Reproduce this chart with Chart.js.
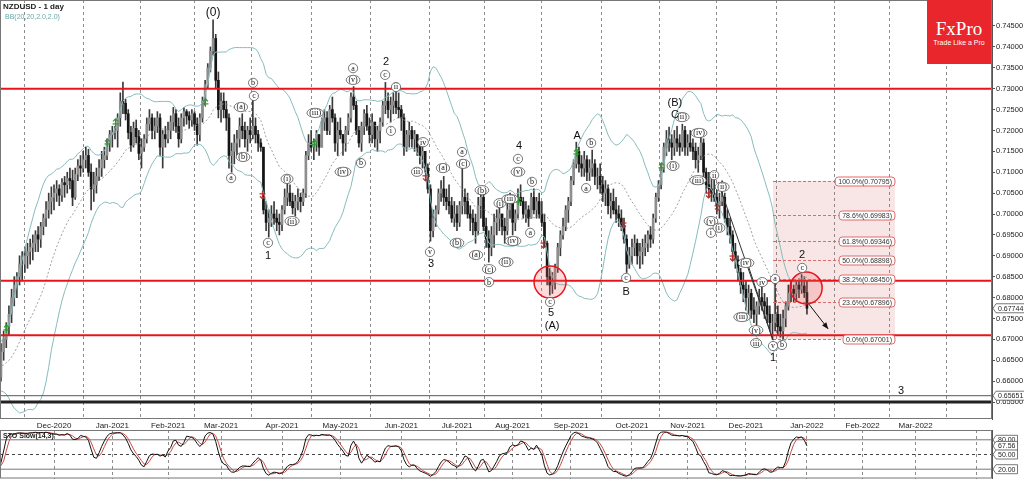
<!DOCTYPE html>
<html>
<head>
<meta charset="utf-8">
<script src="https://cdn.jsdelivr.net/npm/chart.js@4.4.0/dist/chart.umd.min.js"></script>
<style>
html,body{margin:0;padding:0;background:#fff;width:1024px;height:479px;overflow:hidden}
#wrap{position:relative;width:1024px;height:479px}
#main{position:absolute;left:0;top:0}
#sto{position:absolute;left:0;top:430px}
.t{position:absolute;white-space:nowrap}
#logo{position:absolute;left:927px;top:0;width:64px;height:64px;background:#e9262c;color:#fff;text-align:center}
</style>
</head>
<body>
<div id="wrap">
  <canvas id="main" width="1024" height="430"></canvas>
  <canvas id="sto" width="1024" height="49"></canvas>
  <div class="t" style="left:3px;top:2px;font:bold 8px 'Liberation Sans';color:#222">NZDUSD - 1 day</div>
  <div class="t" style="left:5px;top:13px;font:7px 'Liberation Sans';color:#6aa9a9">BB(20,20,2.0,2.0)</div>
  <div id="logo">
    <div style="font:19px 'Liberation Serif';line-height:19px;margin-top:19px">FxPro</div>
    <div style="font:7px 'Liberation Sans';line-height:9px">Trade Like a Pro</div>
  </div>
  <div class="t" style="left:3px;top:432px;font:bold 7px 'Liberation Sans';color:#222">STO Slow(14,3)</div>
</div>
<script>
// daily bars, price in pips (7012 = 0.7012), index 0 = 1 Dec 2020, one step per weekday
const firstIdx = -41;
const hi = [
  // Oct 2020 (off screen, feeds the bands)
  6640,6660,6670,6650,6680,6670,6650,6640,6630,6620,6630,6640,6680,6720,6700,6680,6690,6690,6650,6630,6620,
  // Nov
  6690,6720,6740,6780,6820,6850,6860,6900,6910,6920,6930,6940,6950,6960,6970,6980,7000,7030,7050,7065,
  // Dec
  7070,7080,7070,7085,7090,7100,7110,7105,7110,7130,7140,7150,7160,7155,7120,7100,7110,7130,7150,7160,7180,7200,7210,
  // Jan 2021
  7210,7240,7290,7316,7275,7250,7210,7220,7225,7200,7180,7190,7230,7250,7240,7230,7245,7240,7200,7210,7220,
  // Feb
  7235,7255,7250,7230,7240,7255,7250,7245,7250,7245,7230,7240,7280,7320,7360,7400,7465,7430,7340,7290,
  // Mar
  7290,7270,7240,7170,7190,7200,7230,7240,7220,7210,7230,7290,7230,7200,7180,7160,7030,7010,7020,7030,7010,7000,7020,
  // Apr
  7060,7075,7070,7050,7045,7060,7050,7060,7150,7190,7200,7180,7200,7190,7230,7250,7245,7260,7280,7240,7220,7230,
  // May
  7190,7210,7240,7290,7305,7270,7210,7220,7250,7260,7230,7240,7220,7210,7230,7270,7315,7290,7280,7290,7300,
  // Jun
  7290,7260,7240,7200,7220,7210,7200,7190,7170,7160,7150,7120,7070,7010,7020,7060,7080,7090,7060,7070,7040,7030,
  // Jul
  7020,7030,7130,7060,7050,7020,7010,7000,7040,7060,7050,6990,6960,6970,7000,7010,7020,7000,6990,7030,7050,7040,
  // Aug
  7010,7060,7070,7040,7030,7020,7050,7060,7040,7050,7030,7000,6935,6870,6860,6880,6930,6960,6990,7020,7040,7090,
  // Sep
  7130,7172,7160,7140,7150,7140,7130,7153,7130,7110,7120,7090,7080,7070,7050,7060,7040,7020,7010,6990,6950,6920,
  // Oct
  6940,6950,6940,6930,6940,6950,6960,6970,7000,7050,7080,7120,7170,7200,7208,7190,7200,7210,7190,7215,7210,
  // Nov
  7190,7200,7180,7170,7160,7190,7180,7110,7100,7090,7100,7060,7050,7079.5,7050,7010,6990,6960,6930,6900,6870,6860,
  // Dec + 3 Jan 2022
  6840,6830,6820,6800,6790,6820,6830,6810,6800,6780,6760,6840,6780,6760,6770,6790,6830,6840,6830,6840,6845,6855,6850,6840
];
const lo = [
  6600,6620,6620,6600,6610,6630,6600,6580,6590,6580,6590,6590,6610,6660,6640,6630,6640,6630,6590,6580,6580,
  6600,6650,6680,6710,6740,6780,6800,6830,6840,6860,6870,6880,6890,6910,6910,6920,6950,6970,6990,7000,
  7010,7030,7020,7030,7040,7050,7060,7020,7035,7080,7090,7100,7110,7090,7010,7030,7050,7080,7090,7110,7130,7150,7160,
  7180,7160,7210,7240,7225,7180,7150,7160,7170,7130,7110,7150,7170,7200,7180,7180,7195,7140,7110,7160,7170,
  7180,7200,7195,7160,7170,7210,7215,7205,7210,7200,7165,7175,7220,7260,7300,7340,7380,7300,7230,7220,
  7230,7200,7110,7100,7120,7140,7160,7180,7160,7150,7170,7180,7170,7150,7150,7000,6960,6945,6970,6975,6960,6950,6960,
  7000,7020,7020,7000,6995,7010,7005,7020,7040,7130,7150,7130,7150,7140,7160,7200,7190,7190,7220,7150,7140,7180,
  7140,7150,7190,7220,7250,7190,7160,7150,7190,7200,7170,7170,7160,7150,7170,7210,7240,7230,7220,7240,7240,
  7230,7200,7140,7150,7160,7160,7150,7140,7120,7110,7100,7050,6935,6945,6970,7000,7030,7020,7010,7000,6980,6970,
  6960,6970,7000,7000,6990,6960,6950,6930,6950,6990,6960,6920,6885,6900,6920,6950,6960,6950,6930,6950,6990,6950,
  6960,6990,7020,6990,6980,6970,6990,7000,6990,6990,6970,6920,6830,6806,6810,6820,6860,6900,6940,6960,6980,7020,
  7070,7110,7100,7090,7090,7080,7080,7090,7070,7060,7050,7030,7020,7000,6990,7000,6980,6970,6960,6930,6860,6870,
  6880,6900,6880,6870,6880,6900,6910,6920,6930,6980,7030,7060,7100,7140,7150,7130,7140,7150,7140,7150,7140,
  7140,7150,7130,7110,7100,7130,7080,7050,7040,7030,7030,7000,6990,7020,6980,6950,6930,6890,6870,6840,6810,6790,
  6770,6760,6750,6740,6730,6760,6770,6750,6740,6720,6700.1,6720,6710,6705,6700,6730,6770,6790,6790,6790,6800,6810,6800,6760
];
const cl = [
  6630,6650,6630,6620,6660,6640,6620,6600,6610,6600,6610,6620,6670,6700,6660,6650,6680,6650,6610,6600,6610,
  6670,6700,6730,6760,6800,6830,6850,6880,6880,6900,6910,6920,6930,6950,6940,6970,6990,7010,7030,7040,
  7050,7060,7045,7075,7070,7085,7080,7040,7095,7115,7110,7130,7140,7100,7060,7070,7090,7110,7130,7140,7170,7190,7195,
  7200,7230,7270,7265,7240,7195,7165,7205,7185,7145,7160,7180,7215,7230,7200,7210,7230,7160,7190,7180,7200,
  7220,7240,7210,7180,7230,7245,7235,7225,7240,7215,7190,7230,7270,7310,7350,7390,7420,7320,7250,7270,
  7250,7230,7140,7150,7170,7180,7210,7200,7180,7200,7190,7210,7190,7170,7160,7010,6980,6990,7000,6990,6980,6975,7010,
  7040,7050,7030,7015,7030,7040,7030,7050,7140,7170,7160,7170,7190,7160,7220,7230,7200,7250,7230,7170,7200,7190,
  7170,7200,7230,7280,7260,7200,7170,7210,7240,7210,7190,7220,7180,7200,7220,7260,7270,7250,7260,7270,7255,
  7250,7230,7160,7190,7200,7180,7190,7160,7140,7150,7110,7060,6960,6990,7010,7050,7060,7040,7030,7020,6990,7000,
  6980,7020,7040,7030,7000,6990,6980,6960,7020,7040,6970,6940,6920,6950,6980,6990,7000,6970,6960,7010,7030,6980,
  7000,7040,7030,7000,7010,6990,7040,7010,7030,7000,6980,6930,6850,6830,6840,6870,6920,6950,6970,7010,7030,7080,
  7120,7150,7120,7110,7130,7100,7110,7120,7090,7090,7070,7050,7060,7020,7030,7010,7000,6990,6970,6940,6880,6900,
  6920,6930,6900,6910,6920,6930,6950,6940,6990,7040,7070,7110,7160,7180,7170,7160,7180,7170,7160,7200,7160,
  7170,7160,7150,7130,7140,7170,7100,7070,7060,7050,7040,7020,7030,7040,6990,6970,6950,6910,6890,6860,6830,6820,
  6800,6810,6770,6760,6780,6800,6790,6780,6760,6740,6740,6760,6730,6720,6750,6780,6810,6820,6810,6830,6820,6827.75,6812,6774.4
];
if (hi.length !== cl.length || lo.length !== cl.length) throw new Error('bar arrays differ: ' + hi.length + ' ' + lo.length + ' ' + cl.length);

// date axis: weekday index of each month start, and its label
const monthIdx = [0, 22, 43, 63, 86, 108, 131, 152, 173, 195, 218, 239, 261, 284, 305, 325, 348];
const monthNames = ['Dec-2020','Jan-2021','Feb-2021','Mar-2021','Apr-2021','May-2021','Jun-2021','Jul-2021',
                    'Aug-2021','Sep-2021','Oct-2021','Nov-2021','Dec-2021','Jan-2022','Feb-2022','Mar-2022',''];
const priceTicks = [0.655,0.66,0.665,0.67,0.675,0.68,0.685,0.69,0.695,0.70,0.705,0.71,0.715,0.72,0.725,0.73,0.735,0.74,0.745];
const stoTicks = [20, 50, 80];

// drawn levels
const redLevels = [0.7300, 0.6840, 0.6710];
const thinLevel = 0.65651;
const thickLevel = 0.6550;
const fibTop = 0.70795, fibBottom = 0.67001;
const fibRatios = [1, 0.786, 0.618, 0.5, 0.382, 0.236, 0];
const fibFrom = 271.2, fibTo = 317.2;
const circles = [[187.1, 0.6837], [283.7, 0.6823]];
const trendLines = [[[250.5, 0.7077], [271.2, 0.6698]], [[261.4, 0.6885], [271.2, 0.6698]]];
const arrowLine = [[284.4, 0.6787], [292, 0.6725]];
const buySignals = [[-18,0.6725],[20,0.7170],[23,0.7218],[57,0.7266],[98,0.7168],[175,0.7031],[197,0.7146],[229,0.7113]];
const sellSignals = [[78.5,0.7046],[140,0.7089],[184.5,0.6928],[214.6,0.6976],[246.7,0.7048],[250,0.7017],[255.7,0.6897]];

// wave counts
const circLabels = [
  [75.1,0.7314,'b'],[75.4,0.72825,'c'],[70.5,0.7256,'(a)'],[66.8,0.7086,'a'],[71.3,0.71365,'(b)'],[80.7,0.6931,'c'],
  [87.9,0.7084,'(i)'],[89.8,0.6983,'(ii)'],[98.5,0.7242,'(iii)'],[109,0.7101,'(iv)'],[112.8,0.7321,'(v)'],[112.8,0.7349,'a'],
  [115.8,0.7122,'b'],[124.9,0.7333,'c'],[127.1,0.7199,'i'],[129,0.7304,'ii'],
  [139.2,0.7172,'iv'],[136.9,0.7101,'iii'],[141.8,0.6909,'v'],[146.7,0.7110,'(a)'],[152,0.6931,'(b)'],[153.9,0.71485,'a'],
  [154.3,0.7120,'(c)'],[159.2,0.6902,'(a)'],[161.4,0.7057,'(b)'],[164.1,0.6868,'(c)'],[164.1,0.6837,'b'],
  [168.2,0.7026,'(i)'],[170.5,0.6885,'(ii)'],[172,0.7036,'(iii)'],[173.1,0.69355,'(iv)'],[175,0.7101,'(v)'],[175,0.7132,'c'],
  [180.3,0.7077,'b'],[179.6,0.6955,'a'],[187.1,0.67894,'c'],
  [200.7,0.7062,'a'],[202.6,0.7170,'b'],[215.8,0.6847,'c'],
  [233.5,0.7115,'(i)'],[236.9,0.7232,'(ii)'],[242.9,0.7081,'(iii)'],[243.3,0.7194,'(iv)'],[249,0.7093,'ii'],
  [247.8,0.6983,'(v)'],[247.8,0.6955,'i'],[250.8,0.6967,'(i)'],[252,0.7065,'(ii)'],
  [261,0.6883,'(iv)'],[259.5,0.67535,'(iii)'],[264.8,0.6722,'(v)'],[264.8,0.6691,'iii'],[267.1,0.6837,'iv'],
  [271.2,0.6684,'v'],[272,0.68445,'a'],[274.6,0.66865,'b'],[282.2,0.6871,'c']
];
const bigLabels = [
  [60,0.7481,'(0)'],[80.7,0.68995,'1'],[125.2,0.7364,'2'],[142.2,0.6880,'3'],[175.4,0.7163,'4'],[187.5,0.6763,'5'],
  [187.9,0.6732,'(A)'],[197.3,0.7187,'A'],[215.8,0.6813,'B'],[234.2,0.7266,'(B)'],[234.2,0.7237,'C'],
  [271.2,0.66554,'1'],[282.2,0.6902,'2'],[319.5,0.6576,'3']
];

const xMin = -20.37, xMax = 353.8;
const yMin = 0.650936, yMax = 0.751223;
const FONT = "'Liberation Sans', Arial, sans-serif";
Chart.defaults.font.family = FONT;

const P = v => v / 10000;
const xs = cl.map((c, k) => firstIdx + k);
const op = cl.map((c, k) => k ? cl[k - 1] : c);

// Bollinger 20 / 2.0
const bbMid = [], bbUp = [], bbLo = [];
for (let k = 0; k < cl.length; k++) {
  if (k < 19) { bbMid.push({x: xs[k], y: null}); bbUp.push({x: xs[k], y: null}); bbLo.push({x: xs[k], y: null}); continue; }
  let s = 0;
  for (let j = k - 19; j <= k; j++) s += cl[j];
  const m = s / 20;
  let v = 0;
  for (let j = k - 19; j <= k; j++) v += (cl[j] - m) * (cl[j] - m);
  const sd = Math.sqrt(v / 20);
  bbMid.push({x: xs[k], y: P(m)});
  bbUp.push({x: xs[k], y: P(m + 2 * sd)});
  bbLo.push({x: xs[k], y: P(m - 2 * sd)});
}

// Stochastic slow 14,3,3
const num = [], den = [], stoK = [], stoD = [];
for (let k = 0; k < cl.length; k++) {
  if (k < 13) { num.push(null); den.push(null); continue; }
  let h = -1e9, l = 1e9;
  for (let j = k - 13; j <= k; j++) { h = Math.max(h, hi[j]); l = Math.min(l, lo[j]); }
  num.push(cl[k] - l); den.push(h - l);
}
const kVal = [];
for (let k = 0; k < cl.length; k++) {
  if (k < 15) { kVal.push(null); continue; }
  const n = num[k] + num[k - 1] + num[k - 2], d = den[k] + den[k - 1] + den[k - 2];
  kVal.push(d ? n / d * 100 : 50);
}
for (let k = 0; k < cl.length; k++) {
  stoK.push({x: xs[k], y: kVal[k]});
  stoD.push({x: xs[k], y: k < 17 ? null : (kVal[k] + kVal[k - 1] + kVal[k - 2]) / 3});
}
const lastK = kVal[kVal.length - 1];

const hLine = (v, color, w, dash) => ({
  type: 'line', data: [{x: xMin, y: v}, {x: xMax, y: v}], borderColor: color, borderWidth: w,
  borderDash: dash || [], pointRadius: 0, order: 0
});

// no automatic padding around the plot
const noPad = a => { a.paddingTop = 0; a.paddingBottom = 0; a.paddingLeft = 0; a.paddingRight = 0; };

function tag(ctx, x, y, text) {
  ctx.font = '7px ' + FONT;
  const w = ctx.measureText(text).width + 4, h = 9;
  ctx.beginPath();
  ctx.moveTo(x, y);
  ctx.lineTo(x + 3, y - h / 2);
  ctx.lineTo(x + 3 + w, y - h / 2);
  ctx.lineTo(x + 3 + w, y + h / 2);
  ctx.lineTo(x + 3, y + h / 2);
  ctx.closePath();
  ctx.fillStyle = '#fff'; ctx.fill();
  ctx.strokeStyle = '#555'; ctx.lineWidth = 0.8; ctx.stroke();
  ctx.fillStyle = '#222'; ctx.textAlign = 'left'; ctx.textBaseline = 'middle';
  ctx.fillText(text, x + 5, y + 0.5);
}

const drawings = {
  id: 'drawings',
  beforeDatasetsDraw(c) {
    const ctx = c.ctx, a = c.chartArea, sx = c.scales.x, sy = c.scales.y;
    ctx.save();
    ctx.beginPath(); ctx.rect(a.left, a.top, a.width, a.height); ctx.clip();
    const x0 = sx.getPixelForValue(fibFrom), x1 = sx.getPixelForValue(fibTo);
    const y0 = sy.getPixelForValue(fibTop), y1 = sy.getPixelForValue(fibBottom);
    ctx.fillStyle = 'rgba(214,92,92,0.16)';
    ctx.fillRect(x0, y0, x1 - x0, y1 - y0);
    ctx.restore();
  },
  afterDatasetsDraw(c) {
    const ctx = c.ctx, a = c.chartArea, sx = c.scales.x, sy = c.scales.y;
    const X = v => sx.getPixelForValue(v), Y = v => sy.getPixelForValue(v);
    ctx.save();
    ctx.beginPath(); ctx.rect(a.left, a.top, a.width, a.height); ctx.clip();

    // fibonacci levels
    const x0 = X(fibFrom), x1 = X(fibTo);
    ctx.font = '7px ' + FONT;
    fibRatios.forEach(f => {
      const v = fibBottom + f * (fibTop - fibBottom);
      const y = Math.round(Y(v)) + 0.5;
      const txt = (f * 100).toFixed(1) + '%(' + v.toFixed(5) + ')';
      const w = ctx.measureText(txt).width + 6;
      ctx.strokeStyle = '#e06a6a'; ctx.lineWidth = 1; ctx.setLineDash([3, 2]);
      ctx.beginPath(); ctx.moveTo(x0, y); ctx.lineTo(x1 - w, y); ctx.stroke();
      ctx.setLineDash([]);
      ctx.beginPath();
      ctx.roundRect(x1 - w, y - 4.5, w, 9, 3);
      ctx.fillStyle = '#fff'; ctx.fill();
      ctx.strokeStyle = '#e06a6a'; ctx.stroke();
      ctx.fillStyle = '#333'; ctx.textAlign = 'center'; ctx.textBaseline = 'middle';
      ctx.fillText(txt, x1 - w / 2, y + 0.5);
    });

    // trend lines and projection arrow
    ctx.strokeStyle = '#333'; ctx.lineWidth = 1;
    trendLines.forEach(l => {
      ctx.beginPath(); ctx.moveTo(X(l[0][0]), Y(l[0][1])); ctx.lineTo(X(l[1][0]), Y(l[1][1])); ctx.stroke();
    });
    const ax0 = X(arrowLine[0][0]), ay0 = Y(arrowLine[0][1]), ax1 = X(arrowLine[1][0]), ay1 = Y(arrowLine[1][1]);
    ctx.strokeStyle = '#111';
    ctx.beginPath(); ctx.moveTo(ax0, ay0); ctx.lineTo(ax1, ay1); ctx.stroke();
    const ang = Math.atan2(ay1 - ay0, ax1 - ax0);
    ctx.fillStyle = '#111';
    ctx.beginPath();
    ctx.moveTo(ax1, ay1);
    ctx.lineTo(ax1 - 7 * Math.cos(ang - 0.4), ay1 - 7 * Math.sin(ang - 0.4));
    ctx.lineTo(ax1 - 7 * Math.cos(ang + 0.4), ay1 - 7 * Math.sin(ang + 0.4));
    ctx.closePath(); ctx.fill();

    // highlighted areas
    circles.forEach(p => {
      ctx.beginPath(); ctx.arc(X(p[0]), Y(p[1]), 16, 0, Math.PI * 2);
      ctx.fillStyle = 'rgba(235,90,90,0.22)'; ctx.fill();
      ctx.strokeStyle = '#e8141c'; ctx.lineWidth = 1.5; ctx.stroke();
    });

    // signal arrows
    const sig = (p, up, col) => {
      const x = Math.round(X(p[0])) + 0.5, y = Y(p[1]), d = up ? -1 : 1;
      ctx.strokeStyle = col; ctx.lineWidth = 1.2;
      ctx.beginPath(); ctx.moveTo(x, y - 4 * d); ctx.lineTo(x, y + 4 * d); ctx.stroke();
      ctx.beginPath(); ctx.moveTo(x - 3, y - 1 * d); ctx.lineTo(x + 3, y - 1 * d); ctx.stroke();
      ctx.beginPath(); ctx.moveTo(x - 2.5, y + 1.5 * d); ctx.lineTo(x, y + 4 * d); ctx.lineTo(x + 2.5, y + 1.5 * d); ctx.stroke();
    };
    buySignals.forEach(p => sig(p, true, '#2f9a2f'));
    sellSignals.forEach(p => sig(p, false, '#b5302a'));

    // wave labels
    ctx.lineWidth = 0.8;
    circLabels.forEach(l => {
      const x = X(l[0]), y = Y(l[1]);
      ctx.font = '8px "Liberation Serif"';
      const w = ctx.measureText(l[2]).width;
      const rx = Math.max(4.6, w / 2 + 2.2);
      ctx.beginPath(); ctx.ellipse(x, y, rx, 4.6, 0, 0, Math.PI * 2);
      ctx.fillStyle = '#fff'; ctx.fill();
      ctx.strokeStyle = '#555'; ctx.stroke();
      ctx.fillStyle = '#111'; ctx.textAlign = 'center'; ctx.textBaseline = 'middle';
      ctx.fillText(l[2], x, y + 0.3);
    });
    bigLabels.forEach(l => {
      ctx.font = (l[2] === '(0)' ? '12px ' : '11px ') + FONT;
      ctx.fillStyle = '#111'; ctx.textAlign = 'center'; ctx.textBaseline = 'middle';
      ctx.fillText(l[2], X(l[0]), Y(l[1]));
    });
    ctx.restore();

    // frame
    ctx.save();
    ctx.strokeStyle = '#777'; ctx.lineWidth = 1;
    ctx.strokeRect(a.left + 0.5, a.top + 0.5, a.width - 1, a.height - 1);
    ctx.restore();
  },
  afterDraw(c) {
    const ctx = c.ctx, sy = c.scales.y, x = c.chartArea.right + 1;
    ctx.save();
    tag(ctx, x, sy.getPixelForValue(cl[cl.length - 1] / 10000), (cl[cl.length - 1] / 10000).toFixed(5));
    tag(ctx, x, sy.getPixelForValue(thinLevel), thinLevel.toFixed(5));
    ctx.restore();
  }
};

const body = xs.map((x, k) => ({x: x, y: [P(op[k]), P(cl[k])]}));
const wick = xs.map((x, k) => ({x: x, y: [P(lo[k]), P(hi[k])]}));

new Chart(document.getElementById('main'), {
  type: 'bar',
  data: {
    datasets: [
      ...redLevels.map(v => hLine(v, '#e8141c', 2)),
      hLine(thinLevel, '#555', 1),
      hLine(thickLevel, '#222', 3),
      {type: 'line', data: bbUp, borderColor: '#86bcbc', borderWidth: 1, pointRadius: 0, order: 2, spanGaps: false},
      {type: 'line', data: bbLo, borderColor: '#86bcbc', borderWidth: 1, pointRadius: 0, order: 2, spanGaps: false},
      {type: 'line', data: bbMid, borderColor: '#8a8a8a', borderWidth: 0.8, borderDash: [2, 2], pointRadius: 0, order: 2, spanGaps: false},
      {data: body, barThickness: 2, order: 3, grouped: false,
       backgroundColor: ctx => cl[ctx.dataIndex] >= op[ctx.dataIndex] ? '#8e8e8e' : '#151515'},
      {data: wick, barThickness: 1, order: 4, grouped: false, backgroundColor: '#3a3a3a'}
    ]
  },
  options: {
    responsive: false, animation: false, events: [],
    layout: {padding: 0, autoPadding: false},
    plugins: {legend: {display: false}, tooltip: {enabled: false}},
    scales: {
      x: {
        type: 'linear', min: xMin, max: xMax, offset: false,
        afterBuildTicks: a => { a.ticks = monthIdx.map(v => ({value: v})); },
        afterFit: a => { a.height = 11; noPad(a); },
        ticks: {autoSkip: false, maxRotation: 0, padding: 2, font: {size: 8}, color: '#222',
                callback: (v, i) => monthNames[i]},
        grid: {color: '#8c8c8c', lineWidth: 1, drawTicks: false},
        border: {display: false, dash: [3, 3]}
      },
      y: {
        position: 'right', min: yMin, max: yMax,
        afterBuildTicks: a => { a.ticks = priceTicks.map(v => ({value: v})); },
        afterFit: a => { a.width = 32; noPad(a); },
        ticks: {font: {size: 7.5}, color: '#222', padding: 1, callback: v => v.toFixed(5)},
        grid: {drawOnChartArea: false, drawTicks: true, tickLength: 3, color: '#555'},
        border: {display: true, color: '#555'}
      }
    }
  },
  plugins: [drawings]
});

const stoFrame = {
  id: 'stoFrame',
  afterDraw(c) {
    const ctx = c.ctx, a = c.chartArea, sy = c.scales.y;
    ctx.save();
    ctx.strokeStyle = '#777'; ctx.lineWidth = 1;
    ctx.strokeRect(a.left + 0.5, a.top + 0.5, a.width - 1, a.height - 1.5);
    const x = a.right + 1;
    tag(ctx, x, sy.getPixelForValue(80), '80.00');
    tag(ctx, x, sy.getPixelForValue(lastK), lastK.toFixed(2));
    tag(ctx, x, sy.getPixelForValue(50), '50.00');
    tag(ctx, x, sy.getPixelForValue(20), '20.00');
    ctx.restore();
  }
};

new Chart(document.getElementById('sto'), {
  type: 'line',
  data: {
    datasets: [
      {data: stoK, borderColor: '#111', borderWidth: 1, pointRadius: 0, order: 0},
      {data: stoD, borderColor: '#cc4a44', borderWidth: 1, pointRadius: 0, order: 1},
      hLine(80, '#777', 1),
      hLine(20, '#777', 1),
      hLine(50, '#444', 1, [3, 3])
    ]
  },
  options: {
    responsive: false, animation: false, events: [],
    layout: {padding: 0, autoPadding: false},
    plugins: {legend: {display: false}, tooltip: {enabled: false}},
    scales: {
      x: {
        type: 'linear', min: xMin, max: xMax, offset: false,
        afterBuildTicks: a => { a.ticks = monthIdx.map(v => ({value: v})); },
        afterFit: a => { a.height = 0; noPad(a); },
        ticks: {display: false},
        grid: {color: '#8c8c8c', lineWidth: 1, drawTicks: false},
        border: {display: false, dash: [3, 3]}
      },
      y: {
        position: 'right', min: 0, max: 100,
        afterBuildTicks: a => { a.ticks = stoTicks.map(v => ({value: v})); },
        afterFit: a => { a.width = 32; noPad(a); },
        ticks: {display: false},
        grid: {drawOnChartArea: false, drawTicks: true, tickLength: 3, color: '#555'},
        border: {display: true, color: '#555'}
      }
    }
  },
  plugins: [stoFrame]
});
</script>
</body>
</html>
